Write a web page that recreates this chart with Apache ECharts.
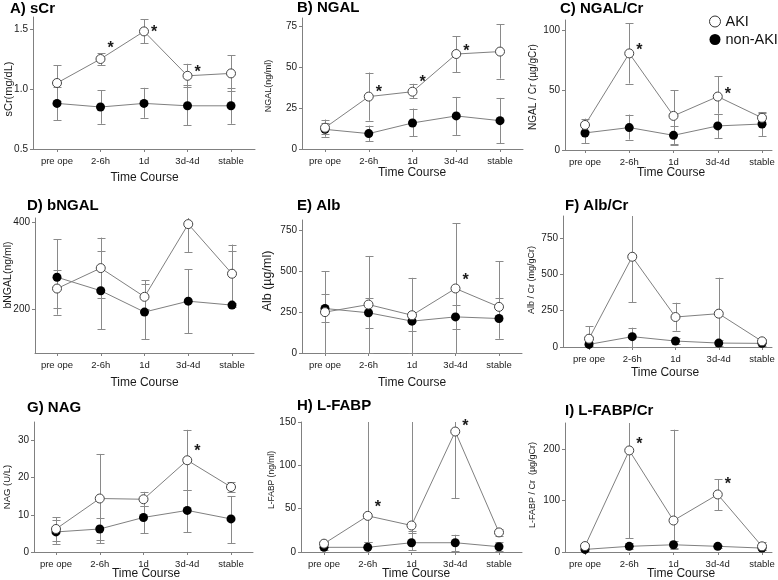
<!DOCTYPE html>
<html><head><meta charset="utf-8">
<script src="https://cdn.jsdelivr.net/npm/echarts@6/dist/echarts.min.js"></script>
<style>html,body{margin:0;padding:0;background:#fff}#c{width:778px;height:580px}</style>
</head><body><div id="c"></div>
<script>
const categories = ['pre ope', '2-6h', '1d', '3d-4d', 'stable'];

// A) sCr
const sCr_AKI = [1.05, 1.25, 1.48, 1.11, 1.13];
const sCr_AKI_lo = [0.90, 1.20, 1.38, 1.02, 0.98];
const sCr_AKI_hi = [1.20, 1.30, 1.58, 1.21, 1.28];
const sCr_non = [0.88, 0.85, 0.88, 0.86, 0.86];
const sCr_non_lo = [0.74, 0.71, 0.76, 0.70, 0.71];
const sCr_non_hi = [1.02, 0.99, 1.01, 1.03, 1.01];
const sCr_star = [null, 1.37, 1.50, 1.17, null];
const sCr_ticks = [0.5, 1.0, 1.5];

// B) NGAL
const NGAL_AKI = [13, 32, 35, 58, 59.5];
const NGAL_AKI_lo = [9, 17.3, 31, 47, 43];
const NGAL_AKI_hi = [18, 46.7, 39.8, 68.8, 76.3];
const NGAL_non = [12, 9.4, 15.9, 20.2, 17.3];
const NGAL_non_lo = [7.5, 4.9, 7.8, 8.6, 3.5];
const NGAL_non_hi = [16, 14.3, 24.7, 31.8, 31.2];
const NGAL_star = [null, 37.1, 42.9, 62.2, null];
const NGAL_ticks = [0, 25, 50, 75];

// C) NGAL/Cr
const NGALCr_AKI = [21, 81, 28.6, 44.8, 27];
const NGALCr_AKI_lo = [16, 55.7, 5, 30.5, 22];
const NGALCr_AKI_hi = [26.3, 106.2, 50, 61.9, 31.4];
const NGALCr_non = [14.3, 18.8, 12.3, 20.2, 21.8];
const NGALCr_non_lo = [5.5, 8.7, 4.5, 10.1, 11.8];
const NGALCr_non_hi = [21, 29.7, 19.9, 30.5, 31.7];
const NGALCr_star = [null, 86.6, null, 50.1, null];
const NGALCr_ticks = [0, 50, 100];

// D) bNGAL
const bNGAL_AKI = [248, 295, 229, 396, 282];
const bNGAL_AKI_lo = [203, 226, 200, 332, 215];
const bNGAL_AKI_hi = [291, 365, 267, 430, 349];
const bNGAL_non = [274, 243, 194, 219, 210];
const bNGAL_non_lo = [188, 154, 132, 145, 205];
const bNGAL_non_hi = [361, 334, 258, 292, 334];
const bNGAL_star = [null, null, null, null, null];
const bNGAL_ticks = [200, 400];

// E) Alb
const Alb_AKI = [249, 295, 230, 393, 281];
const Alb_AKI_lo = [0, 0, 0, 0, 88];
const Alb_AKI_hi = [499, 591, 458, 790, 560];
const Alb_non = [271, 245, 194, 220, 210];
const Alb_non_lo = [190, 153, 134, 147, 88];
const Alb_non_hi = [361, 332, 250, 295, 332];
const Alb_star = [null, null, null, 465, null];
const Alb_ticks = [0, 250, 500, 750];

// F) Alb/Cr
const AlbCr_AKI = [57, 620, 206, 229, 39];
const AlbCr_AKI_lo = [0, 307, 112, 0, 25];
const AlbCr_AKI_hi = [144, 1000, 304, 476, 55];
const AlbCr_non = [18, 71, 41, 27, 25];
const AlbCr_non_lo = [5, 0, 20, 10, 10];
const AlbCr_non_hi = [35, 133, 60, 45, 40];
const AlbCr_star = [null, null, null, null, null];
const AlbCr_ticks = [0, 250, 500, 750];

// G) NAG
const NAG_AKI = [6.2, 14.4, 14.2, 24.7, 17.5];
const NAG_AKI_lo = [3.0, 2.4, 12.4, 16.7, 16.1];
const NAG_AKI_hi = [9.3, 26.4, 16.2, 32.9, 18.8];
const NAG_non = [5.4, 6.2, 9.3, 11.2, 8.9];
const NAG_non_lo = [2.2, 3.3, 5.1, 5.3, 2.4];
const NAG_non_hi = [8.6, 9.1, 12.4, 16.8, 15.0];
const NAG_star = [null, null, null, 28.2, null];
const NAG_ticks = [0, 10, 20, 30];

// H) L-FABP
const LFABP_AKI = [9.6, 41.7, 30.6, 139, 22.6];
const LFABP_AKI_lo = [6, 11, 22, 62, 18];
const LFABP_AKI_hi = [13, 200, 200, 200, 27];
const LFABP_non = [5.4, 5.4, 10.7, 10.7, 6.1];
const LFABP_non_lo = [2, 0, 2, 0.8, 0.8];
const LFABP_non_hi = [8, 11, 23.7, 19.9, 11.5];
const LFABP_star = [null, 55.5, null, 149, null];
const LFABP_ticks = [0, 50, 100, 150];

// I) L-FABP/Cr
const LFABPCr_AKI = [11.5, 196.8, 61, 111.5, 11];
const LFABPCr_AKI_lo = [5, 26.8, 5, 81, 4];
const LFABPCr_AKI_hi = [16, 300, 237, 141, 18.5];
const LFABPCr_non = [5, 11, 14, 11, 7.6];
const LFABPCr_non_lo = [2, 5, 7.6, 8, 4];
const LFABPCr_non_hi = [8, 17, 22, 14, 10];
const LFABPCr_star = [null, 216.6, null, 138, null];
const LFABPCr_ticks = [0, 100, 200];

const FONT = 'Liberation Sans, Arial, sans-serif';
const AXIS_COLOR = '#808080';
const LINE_COLOR = '#808080';
const ERR_COLOR = '#8a8a8a';
const TEXT_COLOR = '#1a1a1a';

const panels = [
  {title: 'A) sCr', tpos: [10, 1], ylab: 'sCr(mg/dL)', ypos: [8.5, 89], yfs: 11, tc: [144.5, 178],
   aki: sCr_AKI, akiLo: sCr_AKI_lo, akiHi: sCr_AKI_hi, non: sCr_non, nonLo: sCr_non_lo, nonHi: sCr_non_hi, star: sCr_star, ticks: sCr_ticks, dec: 1,
   left: 33, right: 255, top: 17, bottom: 149, cat0: 57, sp: 43.5, ymin: 0.5, ymax: 1.6},
  {title: 'B) NGAL', tpos: [297, 0], ylab: 'NGAL(ng/ml)', ypos: [269, 86], yfs: 9, tc: [412, 173],
   aki: NGAL_AKI, akiLo: NGAL_AKI_lo, akiHi: NGAL_AKI_hi, non: NGAL_non, nonLo: NGAL_non_lo, nonHi: NGAL_non_hi, star: NGAL_star, ticks: NGAL_ticks, dec: 0,
   left: 302, right: 523, top: 18, bottom: 149, cat0: 325, sp: 43.75, ymin: 0, ymax: 80},
  {title: 'C) NGAL/Cr', tpos: [560, 1], ylab: 'NGAL / Cr (µg/gCr)', ypos: [533, 87], yfs: 10, tc: [671, 172.5],
   aki: NGALCr_AKI, akiLo: NGALCr_AKI_lo, akiHi: NGALCr_AKI_hi, non: NGALCr_non, nonLo: NGALCr_non_lo, nonHi: NGALCr_non_hi, star: NGALCr_star, ticks: NGALCr_ticks, dec: 0,
   left: 565, right: 772, top: 20, bottom: 150, cat0: 585, sp: 44.25, ymin: 0, ymax: 109},
  {title: 'D) bNGAL', tpos: [27, 198], ylab: 'bNGAL(ng/ml)', ypos: [8.5, 275], yfs: 10.5, tc: [144.5, 383],
   aki: bNGAL_AKI, akiLo: bNGAL_AKI_lo, akiHi: bNGAL_AKI_hi, non: bNGAL_non, nonLo: bNGAL_non_lo, nonHi: bNGAL_non_hi, star: bNGAL_star, ticks: bNGAL_ticks, dec: 0,
   left: 35, right: 254, top: 218, bottom: 353, cat0: 57, sp: 43.75, ymin: 100, ymax: 410},
  {title: 'E) Alb', tpos: [297, 198], ylab: 'Alb (µg/ml)', ypos: [268, 281], yfs: 12.5, tc: [412, 383],
   aki: Alb_AKI, akiLo: Alb_AKI_lo, akiHi: Alb_AKI_hi, non: Alb_non, nonLo: Alb_non_lo, nonHi: Alb_non_hi, star: Alb_star, ticks: Alb_ticks, dec: 0,
   left: 302, right: 522, top: 220, bottom: 353, cat0: 325, sp: 43.5, ymin: 0, ymax: 810},
  {title: 'F) Alb/Cr', tpos: [565, 198], ylab: 'Alb / Cr (mg/gCr)', ypos: [532, 280], yfs: 9, tc: [665, 373],
   aki: AlbCr_AKI, akiLo: AlbCr_AKI_lo, akiHi: AlbCr_AKI_hi, non: AlbCr_non, nonLo: AlbCr_non_lo, nonHi: AlbCr_non_hi, star: AlbCr_star, ticks: AlbCr_ticks, dec: 0,
   left: 563, right: 772, top: 216, bottom: 347, cat0: 589, sp: 43.25, ymin: 0, ymax: 900},
  {title: 'G) NAG', tpos: [27, 400], ylab: 'NAG (U/L)', ypos: [7.5, 487], yfs: 9.5, tc: [146, 574],
   aki: NAG_AKI, akiLo: NAG_AKI_lo, akiHi: NAG_AKI_hi, non: NAG_non, nonLo: NAG_non_lo, nonHi: NAG_non_hi, star: NAG_star, ticks: NAG_ticks, dec: 0,
   left: 34, right: 253, top: 422, bottom: 552, cat0: 56, sp: 43.75, ymin: 0, ymax: 35},
  {title: 'H) L-FABP', tpos: [297, 398], ylab: 'L-FABP (ng/ml)', ypos: [271.5, 480], yfs: 8.5, tc: [416, 574],
   aki: LFABP_AKI, akiLo: LFABP_AKI_lo, akiHi: LFABP_AKI_hi, non: LFABP_non, nonLo: LFABP_non_lo, nonHi: LFABP_non_hi, star: LFABP_star, ticks: LFABP_ticks, dec: 0,
   left: 301, right: 522, top: 422, bottom: 552, cat0: 324, sp: 43.75, ymin: 0, ymax: 150},
  {title: 'I) L-FABP/Cr', tpos: [565, 403], ylab: 'L-FABP / Cr  (µg/gCr)', ypos: [533, 485], yfs: 9, tc: [681, 574],
   aki: LFABPCr_AKI, akiLo: LFABPCr_AKI_lo, akiHi: LFABPCr_AKI_hi, non: LFABPCr_non, nonLo: LFABPCr_non_lo, nonHi: LFABPCr_non_hi, star: LFABPCr_star, ticks: LFABPCr_ticks, dec: 0,
   left: 565, right: 772, top: 423, bottom: 552, cat0: 585, sp: 44.25, ymin: 0, ymax: 250}
];

function makeErrRender(ymin, ymax) {
  return function (params, api) {
    const x = api.value(0);
    const lo = api.value(1), hi = api.value(2);
    const loC = Math.max(lo, ymin), hiC = Math.min(hi, ymax);
    const pLo = api.coord([x, loC]);
    const pHi = api.coord([x, hiC]);
    const px = Math.round(pLo[0]) + 0.5;
    const w = 4;
    const st = {stroke: ERR_COLOR, lineWidth: 1};
    const children = [
      {type: 'line', shape: {x1: px, y1: pLo[1], x2: px, y2: pHi[1]}, style: st}
    ];
    if (lo >= ymin) {
      const y = Math.round(pLo[1]) + 0.5;
      children.push({type: 'line', shape: {x1: px - w, y1: y, x2: px + w, y2: y}, style: st});
    }
    if (hi <= ymax) {
      const y = Math.round(pHi[1]) + 0.5;
      children.push({type: 'line', shape: {x1: px - w, y1: y, x2: px + w, y2: y}, style: st});
    }
    return {type: 'group', children: children};
  };
}

const grids = [], xAxes = [], yAxes = [], series = [], graphics = [];
const idx = [0, 1, 2, 3, 4];

panels.forEach(function (p, i) {
  grids.push({left: p.left, top: p.top, width: p.right - p.left, height: p.bottom - p.top, containLabel: false});
  xAxes.push({
    type: 'value', gridIndex: i,
    min: (p.left - p.cat0) / p.sp, max: (p.right - p.cat0) / p.sp,
    axisLine: {show: true, onZero: false, lineStyle: {color: AXIS_COLOR, width: 1}},
    axisTick: {show: true, customValues: idx, length: 3, lineStyle: {color: AXIS_COLOR}},
    axisLabel: {show: true, customValues: idx, margin: 7, fontSize: 9.5, fontFamily: FONT, color: TEXT_COLOR,
      formatter: function (v) { return categories[Math.round(v)]; }},
    splitLine: {show: false}
  });
  yAxes.push({
    type: 'value', gridIndex: i, min: p.ymin, max: p.ymax,
    axisLine: {show: true, onZero: false, lineStyle: {color: AXIS_COLOR, width: 1}},
    axisTick: {show: true, customValues: p.ticks, length: 3, lineStyle: {color: AXIS_COLOR}},
    axisLabel: {show: true, customValues: p.ticks, margin: 5, fontSize: 10, fontFamily: FONT, color: TEXT_COLOR,
      formatter: function (v) { return v.toFixed(p.dec); }},
    splitLine: {show: false}
  });
  const errAki = idx.map(function (k) { return [k, p.akiLo[k], p.akiHi[k]]; });
  const errNon = idx.map(function (k) { return [k, p.nonLo[k], p.nonHi[k]]; });
  series.push({type: 'custom', xAxisIndex: i, yAxisIndex: i, renderItem: makeErrRender(p.ymin, p.ymax),
    data: errNon, z: 1, silent: true, encode: {x: 0, y: [1, 2]}});
  series.push({type: 'custom', xAxisIndex: i, yAxisIndex: i, renderItem: makeErrRender(p.ymin, p.ymax),
    data: errAki, z: 1, silent: true, encode: {x: 0, y: [1, 2]}});
  series.push({name: 'non-AKI', type: 'line', xAxisIndex: i, yAxisIndex: i,
    data: idx.map(function (k) { return [k, p.non[k]]; }),
    symbol: 'circle', symbolSize: 9, showAllSymbol: true,
    lineStyle: {color: LINE_COLOR, width: 1}, itemStyle: {color: '#000', borderColor: '#000', borderWidth: 0},
    z: 3, animation: false, silent: true});
  series.push({name: 'AKI', type: 'line', xAxisIndex: i, yAxisIndex: i,
    data: idx.map(function (k) { return [k, p.aki[k]]; }),
    symbol: 'circle', symbolSize: 9, showAllSymbol: true,
    lineStyle: {color: LINE_COLOR, width: 1}, itemStyle: {color: '#fff', borderColor: '#444', borderWidth: 1},
    z: 4, animation: false, silent: true});
  const starData = idx.filter(function (k) { return p.star[k] !== null; }).map(function (k) { return [k, p.star[k]]; });
  if (starData.length) {
    series.push({type: 'scatter', xAxisIndex: i, yAxisIndex: i, data: starData, symbolSize: 2,
      itemStyle: {color: 'rgba(255,255,255,0)'}, z: 6, silent: true,
      label: {show: true, position: 'inside', formatter: '*', offset: [10, 4], fontSize: 16, fontWeight: 'bold',
        fontFamily: FONT, color: TEXT_COLOR, opacity: 1}});
  }
  graphics.push({type: 'text', left: p.tpos[0], top: p.tpos[1],
    style: {text: p.title, font: 'bold 15px ' + FONT, fill: '#000'}});
  graphics.push({type: 'text', x: p.ypos[0], y: p.ypos[1], rotation: Math.PI / 2,
    style: {text: p.ylab, font: p.yfs + 'px ' + FONT, fill: TEXT_COLOR, align: 'center', verticalAlign: 'middle'}});
  graphics.push({type: 'text', x: p.tc[0], y: p.tc[1],
    style: {text: 'Time Course', font: '12px ' + FONT, fill: TEXT_COLOR, align: 'center', verticalAlign: 'middle'}});
});

const chart = echarts.init(document.getElementById('c'), null, {renderer: 'canvas'});
chart.setOption({
  animation: false,
  backgroundColor: '#fff',
  grid: grids, xAxis: xAxes, yAxis: yAxes, series: series, graphic: graphics,
  legend: {
    orient: 'vertical', left: 704, top: 9, itemWidth: 11, itemHeight: 11, itemGap: 3,
    selectedMode: false,
    textStyle: {fontSize: 14.5, fontFamily: FONT, color: '#111'},
    data: [
      {name: 'AKI', icon: 'circle', itemStyle: {color: '#fff', borderColor: '#333', borderWidth: 1}},
      {name: 'non-AKI', icon: 'circle', itemStyle: {color: '#000', borderColor: '#000', borderWidth: 0}}
    ]
  }
});
</script>
</body></html>
